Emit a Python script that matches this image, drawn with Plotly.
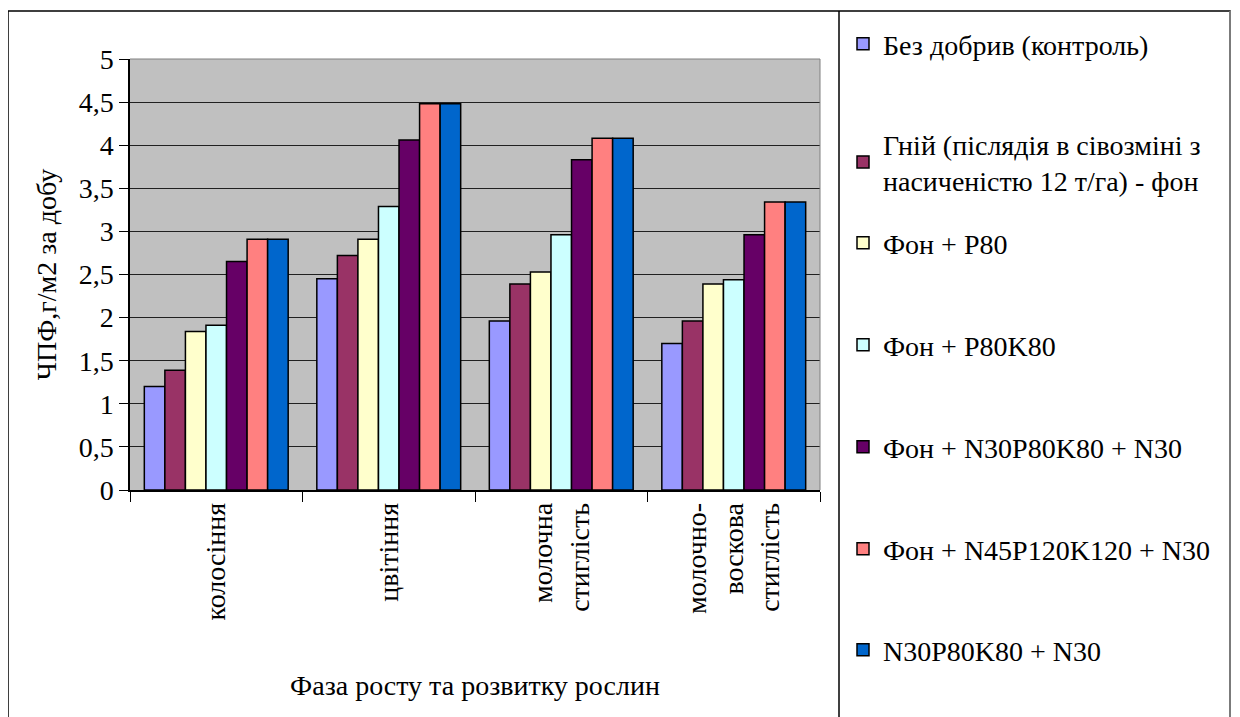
import plotly.graph_objects as go

categories = ["колосіння", "цвітіння", "молочна<br>стиглість", "молочно-<br>воскова<br>стиглість"]
series_names = [
    "Без добрив (контроль)",
    "Гній (післядія в сівозміні з<br>насиченістю 12 т/га) - фон",
    "Фон + P80",
    "Фон + P80K80",
    "Фон + N30P80K80 + N30",
    "Фон + N45P120K120 + N30",
    "N30P80K80 + N30",
]
s1 = [1.20, 2.45, 1.96, 1.70]
s2 = [1.39, 2.72, 2.39, 1.96]
s3 = [1.84, 2.91, 2.53, 2.39]
s4 = [1.91, 3.29, 2.96, 2.44]
s5 = [2.65, 4.06, 3.83, 2.96]
s6 = [2.91, 4.48, 4.08, 3.34]
s7 = [2.91, 4.48, 4.08, 3.34]
series_values = [s1, s2, s3, s4, s5, s6, s7]
colors = ["#9999FF", "#993366", "#FFFFCC", "#CCFFFF", "#660066", "#FF8080", "#0066CC"]

FONT = "Liberation Serif"

# page has an 8px body margin: work in screen pixels, shift by OFF
OFF = 8
W, H = 1240 - OFF, 717 - OFF
L, R, T, B = 130 - OFF, 1240 - 820, 58 - OFF, 717 - 490
pw = W - L - R
ph = H - T - B

def px(x):
    return (x - OFF - L) / pw

def py(y):
    return (H - B - (y - OFF)) / ph

legend_centers = [44, 162, 243, 345, 447, 549, 650]

fig = go.Figure()
legend_layouts = {}
for i, (name, vals) in enumerate(zip(series_names, series_values)):
    lname = "legend" if i == 0 else f"legend{i + 1}"
    fig.add_trace(go.Bar(
        x=categories, y=vals, name=name, legend=lname,
        marker=dict(color=colors[i], line=dict(color="black", width=1.5)),
    ))
    legend_layouts[lname] = dict(
        x=px(843), y=py(legend_centers[i]), xanchor="left", yanchor="middle",
        font=dict(family=FONT, size=28, color="black"),
        bgcolor="rgba(0,0,0,0)", borderwidth=0,
    )

shapes = [
    dict(type="rect", xref="paper", yref="paper", x0=px(8), x1=px(1230), y0=py(10), y1=py(722),
         line=dict(color="black", width=1.5), fillcolor="rgba(0,0,0,0)", layer="above"),
    dict(type="line", xref="paper", yref="paper", x0=px(1230), x1=px(1230), y0=py(10), y1=py(722),
         line=dict(color="#909090", width=1.5)),
    dict(type="line", xref="paper", yref="paper", x0=px(1236), x1=px(1236), y0=py(0), y1=py(722),
         line=dict(color="#404040", width=1.5)),
    dict(type="line", xref="paper", yref="paper", x0=px(839), x1=px(839), y0=py(10), y1=py(722),
         line=dict(color="black", width=1.5)),
    dict(type="line", xref="paper", yref="paper", x0=0, x1=1, y0=1, y1=1,
         line=dict(color="#808080", width=1)),
    dict(type="line", xref="paper", yref="paper", x0=1, x1=1, y0=0, y1=1,
         line=dict(color="#808080", width=1)),
]

fig.update_layout(
    width=W, height=H,
    margin=dict(l=L, r=R, t=T, b=B),
    paper_bgcolor="white",
    plot_bgcolor="#C0C0C0",
    separators=", ",
    barmode="group",
    bargap=0.166,
    bargroupgap=0,
    font=dict(family=FONT, color="black"),
    showlegend=True,
    shapes=shapes,
    xaxis=dict(
        tickangle=-90,
        tickfont=dict(family=FONT, size=28),
        ticks="outside", tickson="boundaries", ticklen=10, tickcolor="black",
        showline=True, linecolor="black", linewidth=1.5,
        title=dict(text="Фаза росту та розвитку рослин", font=dict(family=FONT, size=28), standoff=56),
        showgrid=False,
    ),
    yaxis=dict(
        range=[0, 5], dtick=0.5, tickformat=".1~f",
        tickfont=dict(family=FONT, size=28),
        ticks="outside", ticklen=9, tickcolor="black",
        showline=True, linecolor="black", linewidth=1.5,
        showgrid=True, gridcolor="#202020", gridwidth=1,
        zeroline=False,
        title=dict(text="ЧПФ,г/м2 за добу", font=dict(family=FONT, size=28), standoff=14),
    ),
    **legend_layouts,
)

fig.write_html("out.html")
